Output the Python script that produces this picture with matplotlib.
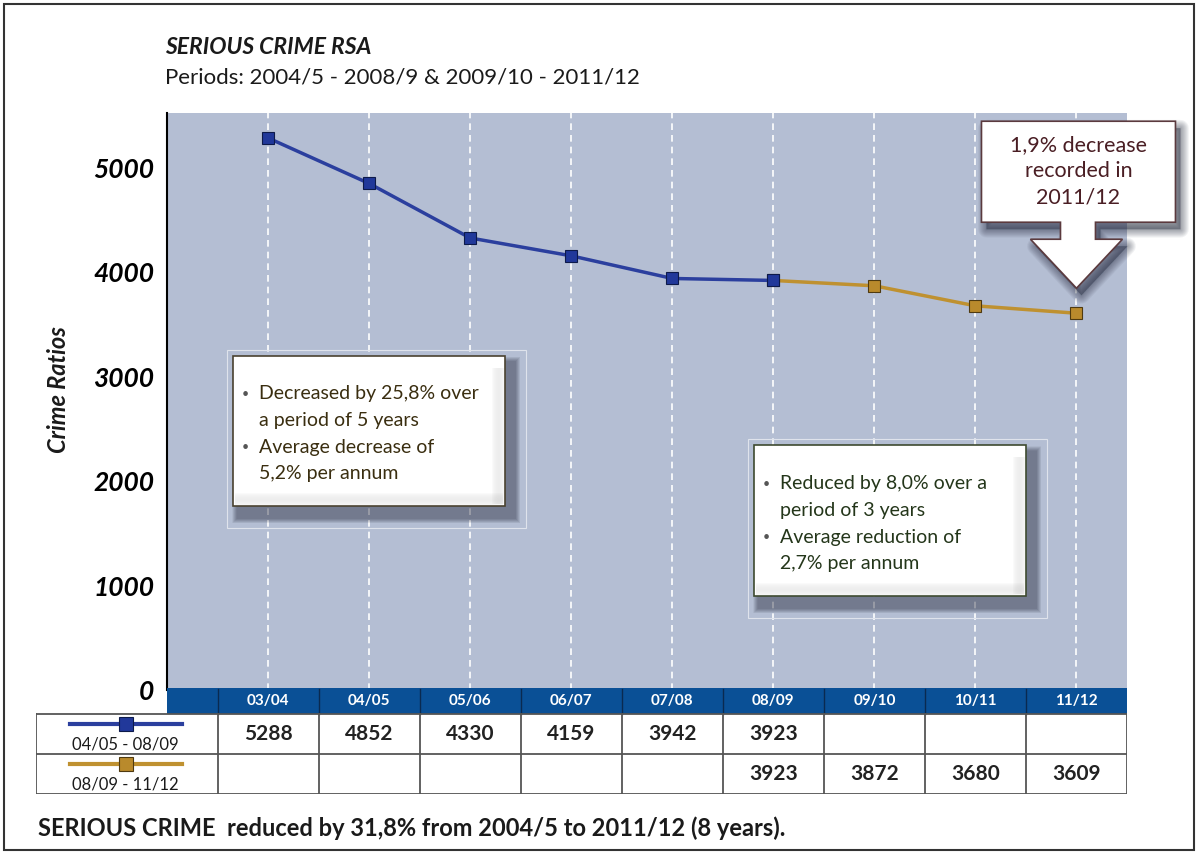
import matplotlib.pyplot as plt
import matplotlib.transforms as mtransforms
from matplotlib.patches import Rectangle, Polygon

plt.rcParams['font.family'] = ['Lato', 'DejaVu Sans']

# data
periods = ["03/04", "04/05", "05/06", "06/07", "07/08", "08/09", "09/10", "10/11", "11/12"]
first_idx = [0, 1, 2, 3, 4, 5]
first_vals = [5288, 4852, 4330, 4159, 3942, 3923]
second_idx = [5, 6, 7, 8]
second_vals = [3923, 3872, 3680, 3609]
first_label = "04/05 - 08/09"
second_label = "08/09 - 11/12"
yticks = [0, 1000, 2000, 3000, 4000, 5000]

box1_lines = ["Decreased by 25,8% over", "a period of 5 years", "Average decrease of", "5,2% per annum"]
box2_lines = ["Reduced by 8,0% over a", "period of 3 years", "Average reduction of", "2,7% per annum"]
callout_text = "1,9% decrease\nrecorded in\n2011/12"

blue = "#2b3f9e"
gold = "#bf9130"
bg = "#b4bed3"
head = "#0a5096"

W, H = 1200, 855
fig = plt.figure(figsize=(12, 8.55), dpi=100)
# pixel transform for layout items (origin top left)
px = mtransforms.Affine2D().scale(1.0 / W, -1.0 / H).translate(0, 1) + fig.transFigure

# outer frame
fig.patches.append(Rectangle((4, 4), 1190, 846, transform=px, fill=False,
                             edgecolor="#333333", lw=1.5))

fig.text(165 / W, 1 - 48 / H, "SERIOUS CRIME RSA", fontsize=16.5, fontweight="bold",
         fontstyle="italic", color="#1a1a1a", va="center")
fig.text(165 / W, 1 - 77 / H, "Periods: 2004/5 - 2008/9 & 2009/10 - 2011/12", fontsize=16,
         color="#1a1a1a", va="center")
fig.text(58 / W, 1 - 390 / H, "Crime Ratios", fontsize=17, fontweight="bold",
         fontstyle="italic", color="#1a1a1a", rotation=90, ha="center", va="center")

# main chart
ax = fig.add_axes([167 / W, 1 - 690 / H, 960 / W, 577 / H])
ax.set_facecolor(bg)
ax.set_xlim(-1, 8.5)
ax.set_ylim(0, 5527)
for s in ["top", "right", "bottom"]:
    ax.spines[s].set_visible(False)
ax.spines["left"].set_color("black")
ax.spines["left"].set_linewidth(1.5)
ax.set_xticks([])
ax.set_yticks(yticks)
ax.set_yticklabels([str(v) for v in yticks], fontsize=19, fontweight="bold", fontstyle="italic")
ax.tick_params(axis="y", length=0, pad=9)
for i in range(len(periods)):
    ax.axvline(i, color="white", lw=1.2, ls=(0, (4, 3)), zorder=1)

ax.plot(second_idx, second_vals, color=gold, lw=2.5, marker="s", ms=8,
        mfc="#b98a2c", mec="#4f3a10", mew=0.8, zorder=5)
ax.plot(first_idx, first_vals, color=blue, lw=2.5, marker="s", ms=8,
        mfc="#21389a", mec="#0d1a4a", mew=0.8, zorder=6)


def shadow_box(x0, y0, w, h, edge):
    for k in range(10, 0, -1):
        fig.patches.append(Rectangle((x0 + 4 - k / 2, y0 + 6 - k / 2), w + k + 6, h + k + 6,
                                     transform=px, facecolor="#1c2236", alpha=0.05,
                                     edgecolor="none", zorder=2))
    fig.patches.append(Rectangle((x0, y0), w, h, transform=px, facecolor="white",
                                 edgecolor=edge, lw=1.2, zorder=3))
    for k in range(12):
        a = 0.03 + 0.012 * k
        fig.patches.append(Rectangle((x0 + 2, y0 + h - 2 - k), w - 4, 1, transform=px,
                                     facecolor="#5a5a5a", alpha=a * (12 - k) / 12 * 2,
                                     edgecolor="none", zorder=3))
        fig.patches.append(Rectangle((x0 + w - 2 - k, y0 + 12), 1, h - 14, transform=px,
                                     facecolor="#5a5a5a", alpha=a * (12 - k) / 12 * 2,
                                     edgecolor="none", zorder=3))
    fig.patches.append(Rectangle((x0 - 6, y0 - 6), w + 27, h + 28, transform=px, fill=False,
                                 edgecolor="#dfe3ec", lw=0.8, zorder=2))


def bullet_text(x0, y0, lines, color):
    for j, line in enumerate(lines):
        yy = y0 + j * 26.5
        if j % 2 == 0:
            fig.text((x0 - 14) / W, 1 - yy / H, "\u2022", fontsize=9, color="#555555",
                     va="center", ha="center", zorder=4)
        fig.text(x0 / W, 1 - yy / H, line, fontsize=14, color=color, va="center", zorder=4)


shadow_box(233, 356, 272, 150, "#4a4230")
bullet_text(259, 394, box1_lines, "#3a2e10")
shadow_box(754, 445, 272, 151, "#3e4a30")
bullet_text(780, 484, box2_lines, "#24361a")

# callout arrow anchored on last point
tip_tr = fig.dpi_scale_trans + mtransforms.ScaledTranslation(second_idx[-1], second_vals[-1], ax.transData)
shape = [(-95, 192), (99, 192), (99, 91), (19, 91), (19, 74), (46, 74), (0, 25),
         (-46, 74), (-16, 74), (-16, 91), (-95, 91)]
shape = [(sx / 100.0, sy / 100.0) for sx, sy in shape]
for k in range(8, 0, -1):
    off = [(sx + 0.05, sy - 0.07) for sx, sy in shape]
    sh = Polygon(off, closed=True, transform=tip_tr, facecolor="#1c2236",
                 alpha=0.06, edgecolor="#1c2236", lw=k * 1.5, joinstyle="round", zorder=6)
    ax.add_patch(sh)
    sh.set_clip_on(False)
callout = Polygon(shape, closed=True, transform=tip_tr, facecolor="white",
                  edgecolor="#5b3a3e", lw=1.2, zorder=7)
callout.set_clip_on(False)
ax.add_patch(callout)
ax.text(0.02, 1.42, callout_text, transform=tip_tr, ha="center", va="center", fontsize=15.5,
        color="#4a1e24", linespacing=1.4, zorder=8)

# data table below chart
tax = fig.add_axes([36 / W, 1 - 794 / H, 1091 / W, 106 / H])
tax.set_xlim(-2.297, 8.5)
tax.set_ylim(106, 0)
tax.axis("off")
tax.add_patch(Rectangle((-1, 0), 9.5, 26, facecolor=head, edgecolor="none"))
for i, p in enumerate(periods):
    tax.text(i, 13, p, ha="center", va="center", color="white", fontsize=11, fontweight="bold")
for i in range(len(periods)):
    tax.plot([i - 0.5, i - 0.5], [1, 26], color="#0a2a50", lw=1)
grid_c = "#555555"
for yy in [26, 66, 106]:
    tax.plot([-2.297, 8.5], [yy, yy], color=grid_c, lw=1.3)
for xx in [-2.297] + [i - 0.5 for i in range(len(periods))] + [8.5]:
    tax.plot([xx, xx], [26, 106], color=grid_c, lw=1.3)

tax.plot([-1.96, -0.85], [36, 36], color=blue, lw=3)
tax.plot([-1.41], [36], marker="s", ms=10, mfc="#21389a", mec="#0d1a4a", mew=0.8)
tax.text(-1.41, 56, first_label, ha="center", va="center", fontsize=12, color="#1a1a1a")
tax.plot([-1.96, -0.85], [76, 76], color=gold, lw=3)
tax.plot([-1.41], [76], marker="s", ms=10, mfc="#b98a2c", mec="#4f3a10", mew=0.8)
tax.text(-1.41, 96, second_label, ha="center", va="center", fontsize=12, color="#1a1a1a")

for i, v in zip(first_idx, first_vals):
    tax.text(i, 46, str(v), ha="center", va="center", fontsize=15, fontweight="bold", color="#222222")
for i, v in zip(second_idx, second_vals):
    tax.text(i, 86, str(v), ha="center", va="center", fontsize=15, fontweight="bold", color="#222222")

fig.text(38 / W, 1 - 828 / H, "SERIOUS CRIME  reduced by 31,8% from 2004/5 to 2011/12 (8 years).",
         fontsize=17, fontweight="bold", color="#1a1a1a", va="center")

fig.savefig("out.png", dpi=100)
